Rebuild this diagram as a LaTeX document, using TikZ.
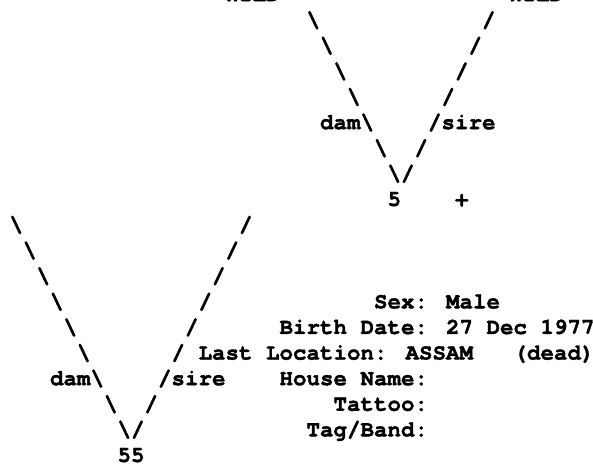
\documentclass[tikz,border=0pt]{standalone}
\usepackage{fontspec}
\newfontfamily\cursorfont{texgyrecursor-bold.otf}[FakeBold=1.6]

\tikzset{
  ascii/.style={font=\cursorfont\fontsize{22.5pt}{25.6pt}\selectfont,
    anchor=base west, inner sep=0pt, outer sep=0pt},
}
\newcommand{\bsl}{\textbackslash}

\begin{document}
\begin{tikzpicture}
    \useasboundingbox (0pt,0pt) rectangle (593pt,-466pt);
    % one unit = one character cell
    \begin{scope}[shift={(9.5pt,-1.15pt)}, x=13.5pt, y=-25.6pt, every node/.style=ascii]
    % Parents of 5
    \node (wilddam) at (16,0) {WILD};
    \node (wildsire) at (37,0) {WILD};
    % Legs of the upper V
    \foreach \r in {1,...,7} {
        \node (upperdam\r) at (21+\r,\r) {\bsl};
        \node (uppersire\r) at (36-\r,\r) {/};
    }
    \node[anchor=base east] (upperdamlabel) at (upperdam5.base west) {dam};
    \node (uppersirelabel) at (uppersire5.base east) {sire};
    \node (five) at (28,8) {5};
    \node (plus) at (33,8) {+};

    % Legs of the lower V
    \foreach \r in {9,...,17} {
        \node (lowerdam\r) at (\r-9,\r) {\bsl};
        \node (lowersire\r) at (26-\r,\r) {/};
    }
    \node[anchor=base east] (lowerdamlabel) at (lowerdam15.base west) {dam};
    \node (lowersirelabel) at (lowersire15.base east) {sire};
    \node (fiftyfive) at (8,18) {55};

    % Record of 55
    \node (sex) at (27,12) {Sex: Male};
    \node (birth) at (20,13) {Birth Date: 27 Dec 1977};
    \node (location) at (14,14) {Last Location: ASSAM~~~(dead)};
    \node (house) at (20,15) {House Name:};
    \node (tattoo) at (24,16) {Tattoo:};
    \node (tag) at (22,17) {Tag/Band:};
    \end{scope}
\end{tikzpicture}
\end{document}
